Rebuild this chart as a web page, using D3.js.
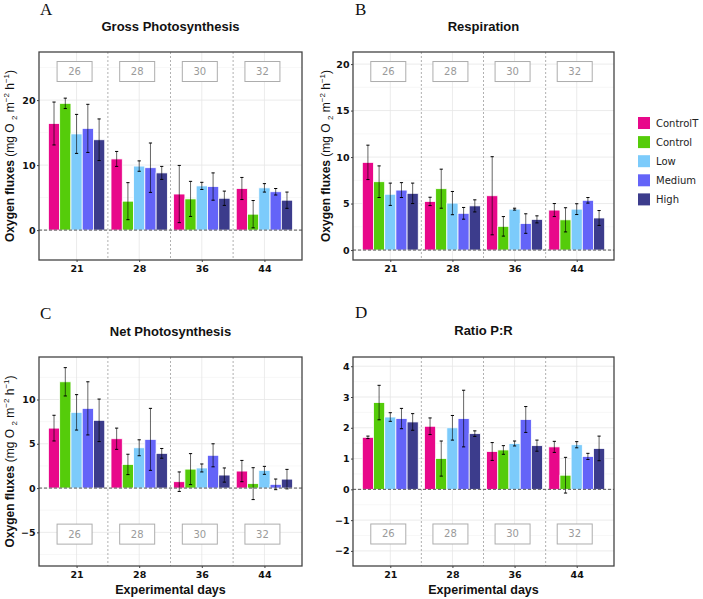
<!DOCTYPE html>
<html><head><meta charset="utf-8">
<script src="https://cdn.jsdelivr.net/npm/d3@7"></script>
<style>body{margin:0;background:#fff}svg{display:block}</style>
</head><body>
<svg id="chart" width="703" height="599"></svg>
<script>
// ---- data ----
const days = ["21", "28", "36", "44"];
const treatments = ["ControlT", "Control", "Low", "Medium", "High"];
const colors = ["#E8088A", "#55CC0A", "#7CCBFB", "#6464F8", "#3C3C8C"];
const temps = ["26", "28", "30", "32"];

// rows: treatments, columns: days
const grossMean = [[16.4, 10.95, 5.55, 6.4], [19.5, 4.45, 4.8, 2.45], [14.8, 9.85, 6.8, 6.5], [15.65, 9.6, 6.7, 5.9], [13.9, 8.8, 4.9, 4.6]];
const grossSE   = [[3.3, 1.15, 4.4, 1.7], [0.8, 2.85, 2.7, 2.1], [3.0, 0.8, 0.55, 0.65], [3.7, 3.8, 2.1, 0.5], [3.2, 1.0, 1.1, 1.25]];
const respMean  = [[9.43, 5.23, 5.84, 4.3], [7.35, 6.6, 2.55, 3.25], [6.0, 5.05, 4.4, 4.4], [6.45, 3.95, 2.85, 5.35], [6.1, 4.75, 3.3, 3.45]];
const respSE    = [[1.85, 0.45, 4.2, 0.7], [1.7, 2.1, 1.05, 1.3], [1.2, 1.25, 0.1, 0.58], [0.8, 0.63, 1.05, 0.3], [1.1, 0.65, 0.38, 0.8]];
const netMean   = [[6.77, 5.57, 0.72, 1.92], [12.0, 2.67, 2.14, 0.5], [8.55, 4.55, 2.27, 2.0], [9.0, 5.5, 3.7, 0.42], [7.65, 3.92, 1.47, 1.01]];
const netSE     = [[1.45, 1.2, 1.1, 1.2], [1.6, 1.15, 1.75, 1.8], [2.0, 0.9, 0.45, 0.45], [3.0, 3.5, 1.3, 0.6], [2.4, 0.55, 0.8, 1.1]];
const ratioMean = [[1.69, 2.05, 1.23, 1.38], [2.82, 1.0, 1.28, 0.46], [2.35, 2.0, 1.49, 1.45], [2.3, 2.3, 2.27, 1.07], [2.19, 1.81, 1.42, 1.33]];
const ratioSE   = [[0.04, 0.27, 0.29, 0.18], [0.56, 0.57, 0.14, 0.58], [0.14, 0.4, 0.08, 0.1], [0.33, 0.92, 0.42, 0.1], [0.27, 0.09, 0.18, 0.4]];

const panelTitles = ["Gross Photosynthesis", "Respiration", "Net Photosynthesis", "Ratio P:R"];
const panelLetters = ["A", "B", "C", "D"];
const yTicksA = [0, 10, 20];
const yTicksB = [0, 5, 10, 15, 20];
const yTicksC = [-5, 0, 5, 10];
const yTicksD = [-2, -1, 0, 1, 2, 3, 4];
const yDomains = [[-4.6, 27.4], [-1.07, 21.3], [-8.8, 14.8], [-2.49, 4.3]];
const tempLabelY = [24.4, 19.2, -5.2, -1.45];

// ---- layout ----
const svg = d3.select("#chart");
const panels = [
  {x0: 39, x1: 302, y0: 52, y1: 260, mean: grossMean, se: grossSE, ticks: yTicksA, ytitle: true, xtitle: false, titleY: 31, letterX: 40, letterY: 15, ytX: 14},
  {x0: 353, x1: 614, y0: 52, y1: 260, mean: respMean, se: respSE, ticks: yTicksB, ytitle: true, xtitle: false, titleY: 31, letterX: 355, letterY: 15, ytX: 330},
  {x0: 39, x1: 302, y0: 357, y1: 566, mean: netMean, se: netSE, ticks: yTicksC, ytitle: true, xtitle: true, titleY: 336, letterX: 40, letterY: 319, ytX: 14},
  {x0: 353, x1: 614, y0: 357, y1: 566, mean: ratioMean, se: ratioSE, ticks: yTicksD, ytitle: false, xtitle: true, titleY: 335, letterX: 355, letterY: 318, ytX: 330}
];

panels.forEach((p, pi) => {
  const g = svg.append("g");
  const x = d3.scalePoint().domain(days).range([p.x0, p.x1]).padding(0.6);
  const step = x.step();
  const y = d3.scaleLinear().domain(yDomains[pi]).range([p.y1, p.y0]);

  // minor grid
  const t = p.ticks, st = t[1] - t[0];
  const minors = [];
  for (let v = t[0] - st * 1.5; v <= t[t.length - 1] + st * 1.5; v += st) {
    if (v > yDomains[pi][0] && v < yDomains[pi][1]) minors.push(v);
  }
  g.selectAll(".ming").data(minors).join("line")
    .attr("x1", p.x0).attr("x2", p.x1).attr("y1", d => y(d)).attr("y2", d => y(d))
    .attr("stroke", "#f2f2f2").attr("stroke-width", 0.6);
  g.selectAll(".majg").data(t).join("line")
    .attr("x1", p.x0).attr("x2", p.x1).attr("y1", d => y(d)).attr("y2", d => y(d))
    .attr("stroke", "#e6e6e6").attr("stroke-width", 0.8);
  g.selectAll(".xg").data(days).join("line")
    .attr("x1", d => x(d)).attr("x2", d => x(d)).attr("y1", p.y0).attr("y2", p.y1)
    .attr("stroke", "#e6e6e6").attr("stroke-width", 0.8);

  // separators
  g.selectAll(".sep").data(days.slice(1)).join("line")
    .attr("x1", d => x(d) - step / 2).attr("x2", d => x(d) - step / 2)
    .attr("y1", p.y0).attr("y2", p.y1)
    .attr("stroke", "#a8a8a8").attr("stroke-width", 0.9).attr("stroke-dasharray", "2,2");

  // temperature labels
  const lab = g.selectAll(".tl").data(temps).join("g")
    .attr("transform", (d, i) => `translate(${x(days[i]) - 2},${y(tempLabelY[pi])})`);
  lab.append("rect").attr("x", -17.5).attr("y", -10).attr("width", 35).attr("height", 20)
    .attr("fill", "#fff").attr("stroke", "#adadad").attr("stroke-width", 1);
  lab.append("text").text(d => d).attr("text-anchor", "middle").attr("dy", "0.35em")
    .attr("font-family", "DejaVu Sans").attr("font-size", 10).attr("fill", "#9a9a9a");

  // bars
  const bw = step * 0.9 / treatments.length;
  treatments.forEach((tr, ti) => {
    const rows = days.map((d, di) => ({d, m: p.mean[ti][di], s: p.se[ti][di]}));
    const bx = d => x(d) - step * 0.45 + ti * bw;
    g.selectAll(".b" + ti).data(rows).join("rect")
      .attr("x", r => bx(r.d)).attr("width", bw)
      .attr("y", r => y(Math.max(0, r.m))).attr("height", r => Math.abs(y(r.m) - y(0)))
      .attr("fill", colors[ti]).attr("stroke", "#fff").attr("stroke-width", 0.8);
    const eg = g.selectAll(".e" + ti).data(rows).join("g").attr("stroke", "#000").attr("stroke-opacity", 0.6);
    eg.append("line").attr("x1", r => bx(r.d) + bw / 2).attr("x2", r => bx(r.d) + bw / 2)
      .attr("y1", r => y(r.m + r.s)).attr("y2", r => y(r.m - r.s)).attr("stroke-width", 1);
    eg.append("line").attr("x1", r => bx(r.d) + bw / 2 - 1.6).attr("x2", r => bx(r.d) + bw / 2 + 1.6)
      .attr("y1", r => y(r.m + r.s)).attr("y2", r => y(r.m + r.s)).attr("stroke-width", 1).attr("stroke-opacity", 1);
    eg.append("line").attr("x1", r => bx(r.d) + bw / 2 - 1.6).attr("x2", r => bx(r.d) + bw / 2 + 1.6)
      .attr("y1", r => y(r.m - r.s)).attr("y2", r => y(r.m - r.s)).attr("stroke-width", 1).attr("stroke-opacity", 1);
  });

  // zero line
  g.append("line").attr("x1", p.x0).attr("x2", p.x1).attr("y1", y(0)).attr("y2", y(0))
    .attr("stroke", "#555").attr("stroke-width", 1).attr("stroke-dasharray", "3,2");

  // border
  g.append("rect").attr("x", p.x0).attr("y", p.y0).attr("width", p.x1 - p.x0).attr("height", p.y1 - p.y0)
    .attr("fill", "none").attr("stroke", "#444").attr("stroke-width", 1.3);

  // axes
  const ya = g.append("g").attr("transform", `translate(${p.x0},0)`)
    .call(d3.axisLeft(y).tickValues(t).tickSize(2).tickPadding(1.5).tickFormat(d3.format("d")));
  ya.select(".domain").remove();
  ya.selectAll("line").attr("stroke", "#444");
  ya.selectAll("text").attr("font-family", "DejaVu Sans").attr("font-weight", "bold").attr("font-size", 9.5).attr("fill", "#111");
  const xa = g.append("g").attr("transform", `translate(0,${p.y1})`)
    .call(d3.axisBottom(x).tickSize(2).tickPadding(3));
  xa.select(".domain").remove();
  xa.selectAll("line").attr("stroke", "#444");
  xa.selectAll("text").attr("font-family", "DejaVu Sans").attr("font-weight", "bold").attr("font-size", 9.5).attr("fill", "#111");

  // title & letter
  g.append("text").text(panelTitles[pi]).attr("x", (p.x0 + p.x1) / 2).attr("y", p.titleY)
    .attr("text-anchor", "middle").attr("font-family", "Liberation Sans").attr("font-weight", "bold").attr("font-size", 13).attr("fill", "#111");
  g.append("text").text(panelLetters[pi]).attr("x", p.letterX).attr("y", p.letterY)
    .attr("font-family", "Liberation Serif").attr("font-size", 17).attr("fill", "#111");

  if (p.ytitle) {
    const yt = g.append("text").attr("transform", `translate(${p.ytX},${(p.y0 + p.y1) / 2}) rotate(-90)`)
      .attr("text-anchor", "middle").attr("font-family", "Liberation Sans").attr("font-size", 12).attr("fill", "#111");
    yt.append("tspan").text("Oxygen fluxes ").attr("font-weight", "bold");
    yt.append("tspan").text("(mg O ");
    yt.append("tspan").text("2").attr("font-size", 8).attr("dy", 3);
    yt.append("tspan").text(" m").attr("dy", -3);
    yt.append("tspan").text("\u22122").attr("font-size", 8).attr("dy", -5);
    yt.append("tspan").text(" h").attr("dy", 5);
    yt.append("tspan").text("\u22121").attr("font-size", 8).attr("dy", -5);
    yt.append("tspan").text(")").attr("dy", 5);
  }
  if (p.xtitle) {
    g.append("text").text("Experimental days").attr("x", (p.x0 + p.x1) / 2).attr("y", 594)
      .attr("text-anchor", "middle").attr("font-family", "Liberation Sans").attr("font-weight", "bold").attr("font-size", 12.5).attr("fill", "#111");
  }
});

// legend
const lg = svg.append("g").attr("transform", "translate(638,117)");
const li = lg.selectAll("g").data(treatments).join("g").attr("transform", (d, i) => `translate(0,${i * 19.1})`);
li.append("rect").attr("width", 12).attr("height", 12).attr("fill", (d, i) => colors[i]);
li.append("text").text(d => d).attr("x", 18).attr("y", 6).attr("dy", "0.35em")
  .attr("font-family", "DejaVu Sans").attr("font-size", 10).attr("fill", "#222");
</script>
</body></html>
